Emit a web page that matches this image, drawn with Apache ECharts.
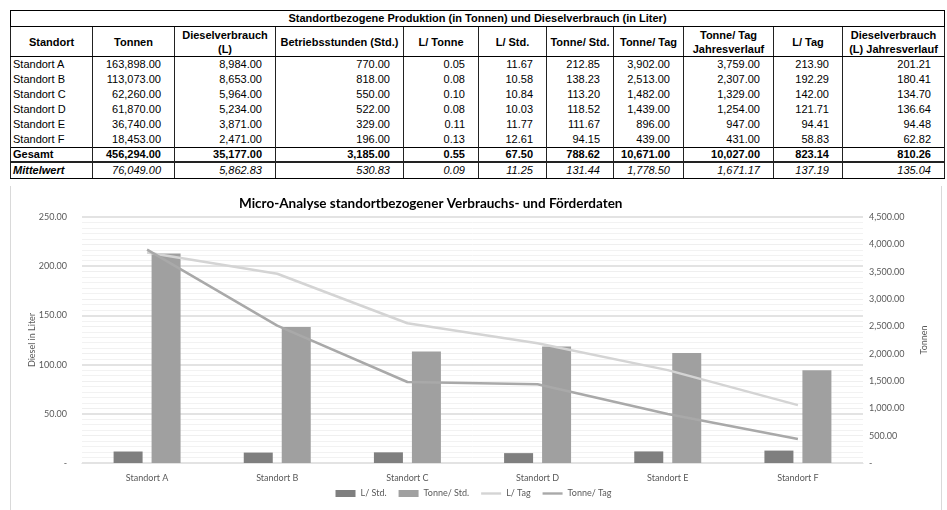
<!DOCTYPE html>
<html>
<head>
<meta charset="utf-8">
<script src="https://cdn.jsdelivr.net/npm/echarts@6/dist/echarts.min.js"></script>
<style>
  html, body { margin:0; padding:0; background:#fff; width:947px; height:510px; overflow:hidden; }
  #tbl { position:absolute; left:10px; top:10px; border-collapse:collapse; table-layout:fixed;
         font-family:"Liberation Sans", Arial, sans-serif; font-size:11px; color:#000; }
  #tbl td, #tbl th { padding:0; overflow:hidden; white-space:nowrap; border-left:1px solid #222; border-right:1px solid #222; }
  #tbl th { font-weight:bold; text-align:center; line-height:14px; height:29px; border-bottom:1px solid #000; }
  #tbl .title th { height:15px; border:1px solid #000; line-height:15px; }
  #tbl td { height:15px; line-height:15px; text-align:right; padding-right:13px; }
  #tbl td.name { text-align:left; padding-left:2px; padding-right:0; }
  #tbl tr.sum td { font-weight:bold; border-top:1px solid #000; border-bottom:2px solid #222; height:13px; line-height:13px; }
  #tbl tr.avg td { font-style:italic; border-bottom:1px solid #000; height:15px; }
  #tbl tr.avg td.name { font-weight:bold; }
  #chart { position:absolute; left:0; top:180px; width:947px; height:330px; }
  .vline { position:absolute; top:186px; width:1px; height:324px; background:#d9d9d9; }
</style>
</head>
<body>
<table id="tbl"></table>
<div class="vline" style="left:10px"></div>
<div class="vline" style="left:941px"></div>
<div id="chart"></div>
<script>
// ---- data ----
const tableTitle = 'Standortbezogene Produktion (in Tonnen) und Dieselverbrauch (in Liter)';
const headers = [['Standort'], ['Tonnen'], ['Dieselverbrauch', '(L)'], ['Betriebsstunden (Std.)'], ['L/ Tonne'],
  ['L/ Std.'], ['Tonne/ Std.'], ['Tonne/ Tag'], ['Tonne/ Tag', 'Jahresverlauf'], ['L/ Tag'], ['Dieselverbrauch', '(L) Jahresverlauf']];
const standorte = ['Standort A', 'Standort B', 'Standort C', 'Standort D', 'Standort E', 'Standort F'];
const tonnen = [163898, 113073, 62260, 61870, 36740, 18453];
const diesel = [8984, 8653, 5964, 5234, 3871, 2471];
const betriebsstunden = [770, 818, 550, 522, 329, 196];
const lProTonne = [0.05, 0.08, 0.10, 0.08, 0.11, 0.13];
const lProStd = [11.67, 10.58, 10.84, 10.03, 11.77, 12.61];
const tonneProStd = [212.85, 138.23, 113.20, 118.52, 111.67, 94.15];
const tonneProTag = [3902, 2513, 1482, 1439, 896, 439];
const tonneTagJahr = [3759, 2307, 1329, 1254, 947, 431];
const lProTag = [213.90, 192.29, 142.00, 121.71, 94.41, 58.83];
const dieselJahr = [201.21, 180.41, 134.70, 136.64, 94.48, 62.82];
const gesamtLabel = 'Gesamt';
const gesamt = [456294, 35177, 3185, 0.55, 67.50, 788.62, 10671, 10027, 823.14, 810.26];
const mittelLabel = 'Mittelwert';
const mittelwert = [76049, 5862.83, 530.83, 0.09, 11.25, 131.44, 1778.50, 1671.17, 137.19, 135.04];

const chartTitle = 'Micro-Analyse standortbezogener Verbrauchs- und Förderdaten';
const leftAxisName = 'Diesel in Liter';
const rightAxisName = 'Tonnen';
const seriesNames = ['L/ Std.', 'Tonne/ Std.', 'L/ Tag', 'Tonne/ Tag'];

// ---- helpers ----
function fmt(v) {
  const neg = v < 0; v = Math.abs(v);
  let s = v.toFixed(2);
  let [i, d] = s.split('.');
  i = i.replace(/\B(?=(\d{3})+(?!\d))/g, ',');
  return (neg ? '-' : '') + i + '.' + d;
}

// ---- table ----
const colWidths = [82, 82, 101, 128, 75, 68, 67, 70, 90, 69, 102];
const tbl = document.getElementById('tbl');
let html = '<colgroup>' + colWidths.map(w => '<col style="width:' + w + 'px">').join('') + '</colgroup>';
html += '<tr class="title"><th colspan="' + headers.length + '">' + tableTitle + '</th></tr>';
html += '<tr>' + headers.map(h => '<th>' + h.join('<br>') + '</th>').join('') + '</tr>';
const cols = [tonnen, diesel, betriebsstunden, lProTonne, lProStd, tonneProStd, tonneProTag, tonneTagJahr, lProTag, dieselJahr];
standorte.forEach((s, r) => {
  html += '<tr><td class="name">' + s + '</td>' + cols.map(c => '<td>' + fmt(c[r]) + '</td>').join('') + '</tr>';
});
html += '<tr class="sum"><td class="name">' + gesamtLabel + '</td>' + gesamt.map(v => '<td>' + fmt(v) + '</td>').join('') + '</tr>';
html += '<tr class="avg"><td class="name">' + mittelLabel + '</td>' + mittelwert.map(v => '<td>' + fmt(v) + '</td>').join('') + '</tr>';
tbl.innerHTML = html;

// ---- chart ----
const chart = echarts.init(document.getElementById('chart'));
const txt = '#595959';
const font = 'Lato, "Open Sans", sans-serif';
const lineIcon = 'path://M0,0H20V2.4H0Z';
chart.setOption({
  animation: false,
  textStyle: { fontFamily: font },
  title: { text: chartTitle, left: 234, top: 12,
    textStyle: { fontFamily: font, fontSize: 13.5, fontWeight: 'bold', color: '#000' } },
  legend: { bottom: 7, left: 'center', itemWidth: 20, itemHeight: 7, itemGap: 12,
    textStyle: { fontFamily: font, fontSize: 9, color: txt },
    data: [
      { name: seriesNames[0], icon: 'rect' },
      { name: seriesNames[1], icon: 'rect' },
      { name: seriesNames[2], icon: lineIcon },
      { name: seriesNames[3], icon: lineIcon }
    ] },
  grid: { left: 82, right: 84, top: 37, bottom: 47 },
  xAxis: { type: 'category', data: standorte,
    axisLine: { lineStyle: { color: '#d9d9d9', width: 1 } }, axisTick: { show: false },
    axisLabel: { color: txt, fontSize: 9, margin: 11, fontFamily: font } },
  yAxis: [
    { type: 'value', min: 0, max: 250, interval: 50, name: leftAxisName, nameLocation: 'middle', nameRotate: 90, nameGap: 45,
      nameMoveOverlap: false,
      nameTextStyle: { color: txt, fontSize: 9, fontFamily: font },
      axisLabel: { color: txt, fontSize: 9, margin: 15, fontFamily: font, formatter: v => v === 0 ? '-' : fmt(v) },
      splitLine: { lineStyle: { color: '#e3e3e3', width: 2 } }, z: 1 },
    { type: 'value', min: 0, max: 4500, interval: 500, name: rightAxisName, nameLocation: 'middle', nameRotate: 90, nameGap: 57,
      nameMoveOverlap: false,
      nameTextStyle: { color: txt, fontSize: 9, fontFamily: font },
      axisLabel: { color: txt, fontSize: 9, margin: 6, fontFamily: font, formatter: v => v === 0 ? '-' : fmt(v) },
      splitLine: { show: true, lineStyle: { color: '#efefef', width: 1 } },
      minorTick: { show: false, splitNumber: 5 },
      minorSplitLine: { show: true, lineStyle: { color: '#f2f2f2', width: 1 } } }
  ],
  series: [
    { name: seriesNames[0], type: 'bar', yAxisIndex: 0, data: lProStd, barWidth: 29, barGap: '31%',
      itemStyle: { color: '#7f7f7f' } },
    { name: seriesNames[1], type: 'bar', yAxisIndex: 0, data: tonneProStd, barWidth: 29,
      itemStyle: { color: '#a0a0a0' } },
    { name: seriesNames[2], type: 'line', yAxisIndex: 0, data: lProTag, symbol: 'none',
      lineStyle: { color: '#d4d4d4', width: 2.5 }, itemStyle: { color: '#d4d4d4' } },
    { name: seriesNames[3], type: 'line', yAxisIndex: 1, data: tonneProTag, symbol: 'none',
      lineStyle: { color: '#a9a9a9', width: 2.5 }, itemStyle: { color: '#a9a9a9' } }
  ]
});
</script>
</body>
</html>
